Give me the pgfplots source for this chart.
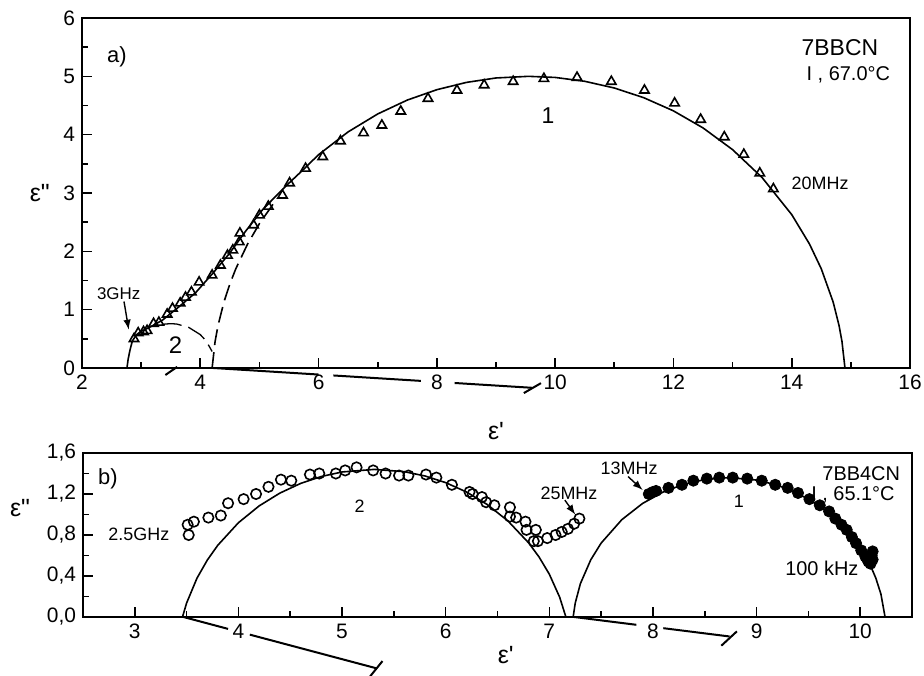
\documentclass[border=0pt]{standalone}
\usepackage{fontspec}
\setmainfont{Liberation Sans}
\usepackage{pgfplots}
\pgfplotsset{compat=1.18}
\pgfplotsset{
  common/.style={
    scale only axis,
    tick align=inside, xtick pos=bottom, ytick pos=left,
    major tick length=5bp, minor tick length=3bp,
    axis line style={line width=1.1bp},
    tick style={line width=0.8bp, black},
    /pgf/number format/assume math mode=true,
    label style={font=\fontsize{12.5}{14}\selectfont},
    clip=false,
  },
  fit/.style={black, line width=0.8bp, no marks},
  ang/.style={black, line width=1bp, no marks},
}
\begin{document}
\begin{tikzpicture}
\useasboundingbox (0,0) rectangle (462bp,-338bp);
% ---------------- panel a ----------------
\begin{axis}[common,
  at={(41bp,-9bp)}, anchor=north west,
  width=414bp, height=175bp,
  xmin=2, xmax=16, ymin=0, ymax=6,
  xtick={2,4,...,16}, ytick={0,1,...,6},
  minor x tick num=1, minor y tick num=1,
  tick label style={font=\fontsize{10.5}{12}\selectfont},
  xlabel={ε\textquotesingle}, ylabel={ε\textquotedbl},
  xlabel style={at={(axis description cs:0.5,-0.18)}, anchor=center},
  ylabel style={at={(axis description cs:-0.051,0.5)}, anchor=center, rotate=-90},
]
% sum fit (solid)
\addplot[fit] coordinates {
(2.76,0) (2.78,0.15) (2.81,0.30) (2.85,0.46) (2.92,0.57) (3.00,0.63) (3.13,0.69)
(3.36,0.82) (3.64,1.05) (3.92,1.29) (4.20,1.61) (4.49,1.96) (4.77,2.35) (5.05,2.71)
(5.33,3.00) (5.50,3.17) (5.73,3.39) (6.0,3.657) (6.5,4.048) (7.0,4.355) (7.5,4.593)
(8.0,4.771) (8.5,4.896) (9.0,4.972) (9.55,5.000) (10.0,4.981) (10.5,4.915) (11.0,4.800)
(11.5,4.633) (12.0,4.408) (12.5,4.116) (13.0,3.743) (13.5,3.264) (14.0,2.630)
(14.3,2.126) (14.5,1.700) (14.7,1.132) (14.8,0.729) (14.85,0.453) (14.9,0)
};
% arc 1 low-frequency part (dashed)
\addplot[fit, dash pattern=on 8bp off 3.5bp] coordinates {
(4.2,0) (4.25,0.453) (4.3,0.729) (4.4,1.132) (4.5,1.441) (4.6,1.700) (4.8,2.126)
(5.0,2.475) (5.3,2.908)
};
% arc 2 (dashed)
\addplot[fit, line width=0.65bp, dash pattern=on 10bp off 3.5bp] coordinates {
(3.35,0.74) (3.4,0.753) (3.5,0.76) (3.6,0.754) (3.8,0.699) (4.0,0.572) (4.1,0.463) (4.2,0.283)
};
% depression-angle lines
\addplot[ang] coordinates {(4.22,0) (6.0,-0.112)};
\addplot[ang] coordinates {(6.25,-0.128) (7.73,-0.221)};
\addplot[ang] coordinates {(8.3,-0.257) (9.62,-0.34)};
\addplot[ang] coordinates {(9.47,-0.43) (9.76,-0.26)};
\addplot[ang] coordinates {(3.41,-0.12) (3.61,0.02)};
% data
\addplot[only marks, mark=triangle, mark size=2.7bp, mark options={line width=0.8bp, black, fill=white}] coordinates {
(2.88,0.50) (2.95,0.60) (3.04,0.62) (3.10,0.64) (3.21,0.76) (3.30,0.78) (3.44,0.92)
(3.53,1.02) (3.66,1.11) (3.75,1.21) (3.85,1.30) (3.98,1.47) (4.20,1.59) (4.34,1.76)
(4.46,1.93) (4.55,2.02) (4.66,2.16) (4.67,2.31) (4.90,2.45) (5.00,2.62) (5.15,2.77)
(5.39,2.96) (5.51,3.17) (5.78,3.42) (6.07,3.62) (6.37,3.89) (6.76,4.03) (7.07,4.16)
(7.39,4.40) (7.85,4.62) (8.34,4.76) (8.80,4.85) (9.29,4.91) (9.81,4.96) (10.37,4.98)
(10.95,4.91) (11.51,4.76) (12.02,4.54) (12.46,4.26) (12.86,3.96) (13.19,3.66)
(13.46,3.34) (13.69,3.07)
};
% annotations
\node[font=\fontsize{11}{13}\selectfont] at (axis cs:2.59,5.33) {a)};
\node[font=\fontsize{11.5}{13}\selectfont, anchor=east] at (axis cs:15.58,5.50) {7BBCN};
\node[font=\fontsize{10}{12}\selectfont, anchor=east] at (axis cs:15.78,5.02) {I , 67.0°C};
\node[font=\fontsize{11.5}{13}\selectfont] at (axis cs:9.88,4.33) {1};
\node[font=\fontsize{9}{10}\selectfont] at (axis cs:14.48,3.16) {20MHz};
\node[font=\fontsize{8.5}{10}\selectfont] at (axis cs:2.62,1.28) {3GHz};
\draw[-latex, line width=0.7bp] (axis cs:2.71,1.14) -- (axis cs:2.79,0.66);
\node[font=\fontsize{12}{14}\selectfont] at (axis cs:3.58,0.39) {2};
\end{axis}
% ---------------- panel b ----------------
\begin{axis}[common,
  at={(41.5bp,-226.5bp)}, anchor=north west,
  width=414.5bp, height=82bp,
  xmin=2.5, xmax=10.5, ymin=0, ymax=1.6,
  xtick={3,4,...,10}, ytick={0,0.4,...,1.61},
  minor x tick num=1, minor y tick num=1,
  tick label style={font=\fontsize{10.5}{12}\selectfont},
  yticklabel style={/pgf/number format/.cd, fixed, fixed zerofill, precision=1, use comma},
  xlabel={ε\textquotesingle}, ylabel={ε\textquotedbl},
  xlabel style={at={(axis description cs:0.51,-0.23)}, anchor=center},
  ylabel style={at={(axis description cs:-0.076,0.665)}, anchor=center, rotate=-90},
]
% arc 2
\addplot[fit] coordinates {
(3.46,0) (3.5,0.137) (3.6,0.379) (3.7,0.556) (3.8,0.699) (4.0,0.920) (4.2,1.084)
(4.4,1.209) (4.6,1.303) (4.8,1.371) (5.0,1.415) (5.31,1.440) (5.6,1.418) (5.8,1.376)
(6.0,1.311) (6.2,1.220) (6.4,1.098) (6.6,0.938) (6.8,0.724) (6.9,0.587) (7.0,0.418)
(7.1,0.193) (7.16,0)
};
% arc 1
\addplot[fit] coordinates {
(7.23,0) (7.25,0.135) (7.3,0.326) (7.4,0.558) (7.5,0.721) (7.7,0.950) (7.9,1.108)
(8.1,1.220) (8.3,1.296) (8.5,1.341) (8.735,1.360) (9.0,1.336) (9.2,1.287) (9.4,1.206)
(9.6,1.088) (9.8,0.921) (9.9,0.812) (10.0,0.677) (10.1,0.499) (10.15,0.382) (10.2,0.224)
(10.24,0)
};
% depression-angle lines
\addplot[ang] coordinates {(3.47,0) (3.9,-0.116)};
\addplot[ang] coordinates {(4.11,-0.172) (5.33,-0.50)};
\addplot[ang] coordinates {(5.27,-0.58) (5.39,-0.43)};
\addplot[ang] coordinates {(7.24,0) (7.84,-0.076)};
\addplot[ang] coordinates {(8.10,-0.109) (8.74,-0.19)};
\addplot[ang] coordinates {(8.66,-0.28) (8.81,-0.14)};
% open circles
\addplot[only marks, mark=o, mark size=2.6bp, mark options={line width=0.8bp, black}] coordinates {
(3.52,0.80) (3.51,0.90) (3.57,0.93) (3.71,0.97) (3.83,0.99) (3.90,1.11) (4.05,1.15)
(4.17,1.20) (4.29,1.27) (4.41,1.34) (4.51,1.33) (4.69,1.39) (4.78,1.40) (4.94,1.40)
(5.03,1.43) (5.14,1.46) (5.30,1.43) (5.42,1.40) (5.55,1.38) (5.64,1.38) (5.81,1.39)
(5.91,1.36) (6.06,1.29) (6.23,1.22) (6.26,1.20) (6.35,1.17) (6.39,1.12) (6.47,1.09)
(6.62,1.07) (6.62,0.98) (6.68,0.97) (6.77,0.93) (6.78,0.85) (6.87,0.85) (6.85,0.74)
(6.89,0.74) (6.98,0.77) (7.06,0.80) (7.12,0.83) (7.18,0.86) (7.24,0.91) (7.29,0.96)
};
% filled circles
\addplot[only marks, mark=*, mark size=2.8bp, mark options={black}] coordinates {
(7.96,1.20) (8.00,1.22) (8.03,1.23) (8.15,1.26) (8.28,1.29) (8.39,1.33) (8.52,1.35)
(8.64,1.36) (8.77,1.36) (8.91,1.35) (9.05,1.33) (9.18,1.29) (9.30,1.26) (9.40,1.21)
(9.51,1.15) (9.61,1.09) (9.70,1.03) (9.76,0.96) (9.82,0.90) (9.87,0.85) (9.92,0.78)
(9.96,0.72) (10.01,0.65) (10.05,0.59) (10.08,0.54) (10.10,0.52) (10.11,0.60) (10.12,0.64)
(10.09,0.57) (10.07,0.56) (10.12,0.56)
};
% annotations
\node[font=\fontsize{11}{13}\selectfont] at (axis cs:2.74,1.35) {b)};
\node[font=\fontsize{9}{10}\selectfont, anchor=east] at (axis cs:3.40,0.81) {2.5GHz};
\node[font=\fontsize{9}{10}\selectfont] at (axis cs:5.17,1.08) {2};
\node[font=\fontsize{9}{10}\selectfont] at (axis cs:7.19,1.21) {25MHz};
\draw[-latex, line width=0.7bp] (axis cs:7.15,1.14) -- (axis cs:7.25,1.00);
\node[font=\fontsize{9}{10}\selectfont] at (axis cs:7.77,1.45) {13MHz};
\draw[-latex, line width=0.7bp] (axis cs:7.76,1.37) -- (axis cs:7.90,1.24);
\node[font=\fontsize{9}{10}\selectfont] at (axis cs:8.83,1.13) {1};
\node[font=\fontsize{10}{11}\selectfont] at (axis cs:10.01,1.40) {7BB4CN};
\node[font=\fontsize{10}{11}\selectfont, anchor=east] at (axis cs:10.40,1.19) {I , 65.1°C};
\node[font=\fontsize{10}{11}\selectfont] at (axis cs:9.63,0.475) {100 kHz};
\end{axis}
\end{tikzpicture}
\end{document}
